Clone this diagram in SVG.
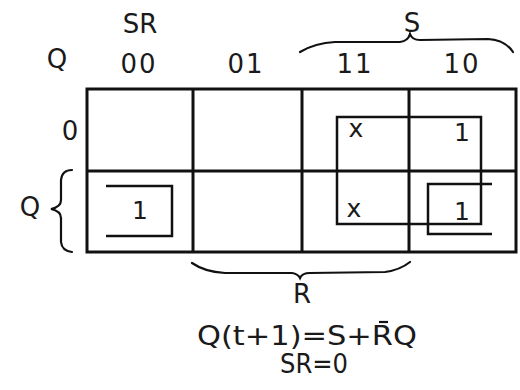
<svg xmlns="http://www.w3.org/2000/svg" width="520" height="390" viewBox="0 0 520 390">
<style>
text{font-family:"DejaVu Sans","Liberation Sans",sans-serif;fill:#1a1a1a;text-anchor:middle}
.lbl{font-size:26px}
.cell{font-size:25px}
.grid{fill:none;stroke:#111;stroke-width:3}
.loop{fill:none;stroke:#111;stroke-width:2.5}
.brace{fill:none;stroke:#111;stroke-width:2.2;stroke-linecap:round}
</style>
<rect width="520" height="390" fill="#fff"/>
<g id="headers">
<text class="lbl" x="140" y="33">SR</text>
<text class="lbl" x="57" y="68">Q</text>
<text class="lbl" x="139" y="73" letter-spacing="2">00</text>
<text class="lbl" x="246" y="73" letter-spacing="2">01</text>
<text class="lbl" x="355" y="73" letter-spacing="2">11</text>
<text class="lbl" x="462" y="73" letter-spacing="2">10</text>
<text class="lbl" x="412" y="32">S</text>
<text class="lbl" x="70" y="140">0</text>
<text class="lbl" x="30" y="216">Q</text>
<text class="lbl" x="302" y="303">R</text>
</g>
<g id="braces">
<path class="brace" d="M300,52 Q315,43 335,42 L400,42 Q408,41 410,34 Q412,40 420,40 L488,39 Q505,40 513,52"/>
<path class="brace" d="M192,263 Q205,272 225,273 L292,273 Q298,274 300,278 Q302,273 310,273 L385,272 Q400,270 410,262"/>
<path class="brace" d="M72,170 Q62,170 61,180 L61,200 Q61,207 51,209 Q61,211 61,218 L61,242 Q62,251 72,252"/>
</g>
<g id="grid">
<rect class="grid" x="87" y="89" width="429" height="163"/>
<line class="grid" x1="87" y1="171" x2="516" y2="171"/>
<line class="grid" x1="193" y1="89" x2="193" y2="252"/>
<line class="grid" x1="302" y1="89" x2="302" y2="252"/>
<line class="grid" x1="409" y1="89" x2="409" y2="252"/>
</g>
<g id="loops">
<rect class="loop" x="337" y="117" width="144" height="107"/>
<path class="loop" d="M492,184 L428,184 L428,234 L492,234"/>
<path class="loop" d="M106,186 L172,186 L172,236 L106,236"/>
</g>
<g id="cells">
<text class="cell" x="356" y="137">x</text>
<text class="cell" x="462" y="141">1</text>
<text class="cell" x="140" y="219">1</text>
<text class="cell" x="354" y="217">x</text>
<text class="cell" x="462" y="220">1</text>
</g>
<g id="equation">
<text class="lbl" x="307" y="345" textLength="220" lengthAdjust="spacingAndGlyphs">Q(t+1)=S+RQ</text>
<line x1="379" y1="322" x2="388" y2="322" stroke="#111" stroke-width="2.2"/>
<text class="lbl" x="314" y="373" textLength="68" lengthAdjust="spacingAndGlyphs">SR=0</text>
</g>
</svg>
